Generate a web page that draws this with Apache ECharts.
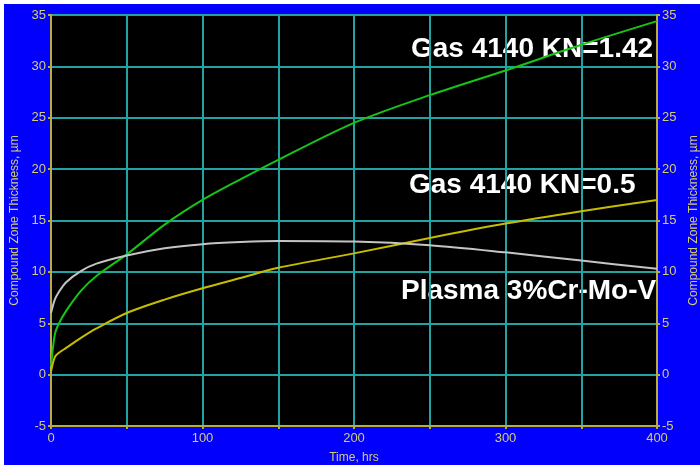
<!DOCTYPE html>
<html>
<head>
<meta charset="utf-8">
<script src="https://cdn.jsdelivr.net/npm/echarts@6/dist/echarts.min.js"></script>
<style>
  html, body { margin: 0; padding: 0; background: #ffffff; }
  #frame { position: absolute; left: 4px; top: 4px; width: 696px; height: 461px; background: #0000fc; }
  #chart { width: 696px; height: 461px; }
</style>
</head>
<body>
<div id="frame"><div id="chart"></div></div>
<script>
// Nitriding time (hours)
const timeHrs = [0, 2.5, 5, 10, 20, 30, 50, 75, 100, 125, 150, 200, 250, 300, 350, 400];
// Compound zone thickness, µm
const gasKN142 = [0.8, 3.9, 4.9, 6.2, 8.2, 9.6, 11.7, 14.6, 17.0, 19.0, 20.9, 24.5, 27.2, 29.6, 32.1, 34.4];
const gasKN05  = [0.3, 1.7, 2.1, 2.6, 3.6, 4.5, 6.0, 7.3, 8.4, 9.4, 10.4, 11.8, 13.3, 14.7, 15.9, 17.0];
const plasma   = [6.0, 7.3, 8.0, 9.0, 10.1, 10.8, 11.6, 12.3, 12.7, 12.9, 13.0, 12.95, 12.6, 11.9, 11.1, 10.3];
// Axis ticks
const xTicks = [0, 100, 200, 300, 400];
const yTicks = [-5, 0, 5, 10, 15, 20, 25, 30, 35];

const seriesLabels = ['Gas 4140 KN=1.42', 'Gas 4140 KN=0.5', 'Plasma 3%Cr-Mo-V'];

const pair = vals => timeHrs.map((t, i) => [t, vals[i]]);

const axisText = '#d6cc78';
const axisLine = '#b8ae3c';
const gridCol = '#22a2a0';

function yAxisDef(pos) {
  return {
    type: 'value', position: pos,
    min: yTicks[0], max: yTicks[yTicks.length - 1], interval: 5,
    name: 'Compound Zone Thickness, µm',
    nameLocation: 'middle', nameRotate: 90,
    nameGap: 29,
    nameTextStyle: { color: axisText, fontFamily: 'Liberation Sans', fontSize: 12 },
    axisLine: { show: true, onZero: false, lineStyle: { color: axisLine, width: 2 } },
    axisTick: { show: true, length: 3, lineStyle: { color: axisLine, width: 2 } },
    axisLabel: { color: axisText, fontFamily: 'Liberation Sans', fontSize: 13, margin: 5 },
    splitLine: { show: pos === 'left', lineStyle: { color: gridCol, width: 2 } }
  };
}

const labelFont = 'bold 28px "Liberation Sans"';

const chart = echarts.init(document.getElementById('chart'), null, { renderer: 'canvas' });
chart.setOption({
  animation: false,
  backgroundColor: 'transparent',
  grid: {
    left: 47, top: 11, right: 43, bottom: 39,
    containLabel: false, outerBoundsMode: 'none',
    show: true, backgroundColor: '#000000', borderColor: axisLine, borderWidth: 2
  },
  xAxis: {
    type: 'value', min: xTicks[0], max: xTicks[xTicks.length - 1], interval: 50,
    name: 'Time, hrs', nameLocation: 'middle', nameGap: 26,
    nameTextStyle: { color: axisText, fontFamily: 'Liberation Sans', fontSize: 12 },
    axisLine: { show: true, onZero: false, lineStyle: { color: axisLine, width: 2 } },
    axisTick: { show: true, length: 3, lineStyle: { color: axisLine, width: 2 } },
    axisLabel: {
      color: axisText, fontFamily: 'Liberation Sans', fontSize: 13, margin: 6,
      formatter: v => (xTicks.indexOf(v) >= 0 ? String(v) : '')
    },
    splitLine: { show: true, lineStyle: { color: gridCol, width: 2 } }
  },
  yAxis: [yAxisDef('left'), yAxisDef('right')],
  series: [
    { name: seriesLabels[0], type: 'line', data: pair(gasKN142), showSymbol: false, smooth: 0.3,
      lineStyle: { color: '#16c416', width: 2 } },
    { name: seriesLabels[1], type: 'line', data: pair(gasKN05), showSymbol: false, smooth: 0.3,
      lineStyle: { color: '#c8bc00', width: 2 } },
    { name: seriesLabels[2], type: 'line', data: pair(plasma), showSymbol: false, smooth: 0.3,
      lineStyle: { color: '#c4c4c4', width: 2 } }
  ],
  graphic: [
    { type: 'text', left: 407, top: 31, style: { text: seriesLabels[0], fill: '#ffffff',
      font: labelFont, shadowColor: 'rgba(60,60,60,0.9)', shadowBlur: 3 } },
    { type: 'text', left: 405, top: 167, style: { text: seriesLabels[1], fill: '#ffffff',
      font: labelFont, shadowColor: 'rgba(60,60,60,0.9)', shadowBlur: 3 } },
    { type: 'text', left: 397, top: 273, style: { text: seriesLabels[2], fill: '#ffffff',
      font: labelFont, shadowColor: 'rgba(60,60,60,0.9)', shadowBlur: 3 } }
  ]
});
</script>
</body>
</html>
